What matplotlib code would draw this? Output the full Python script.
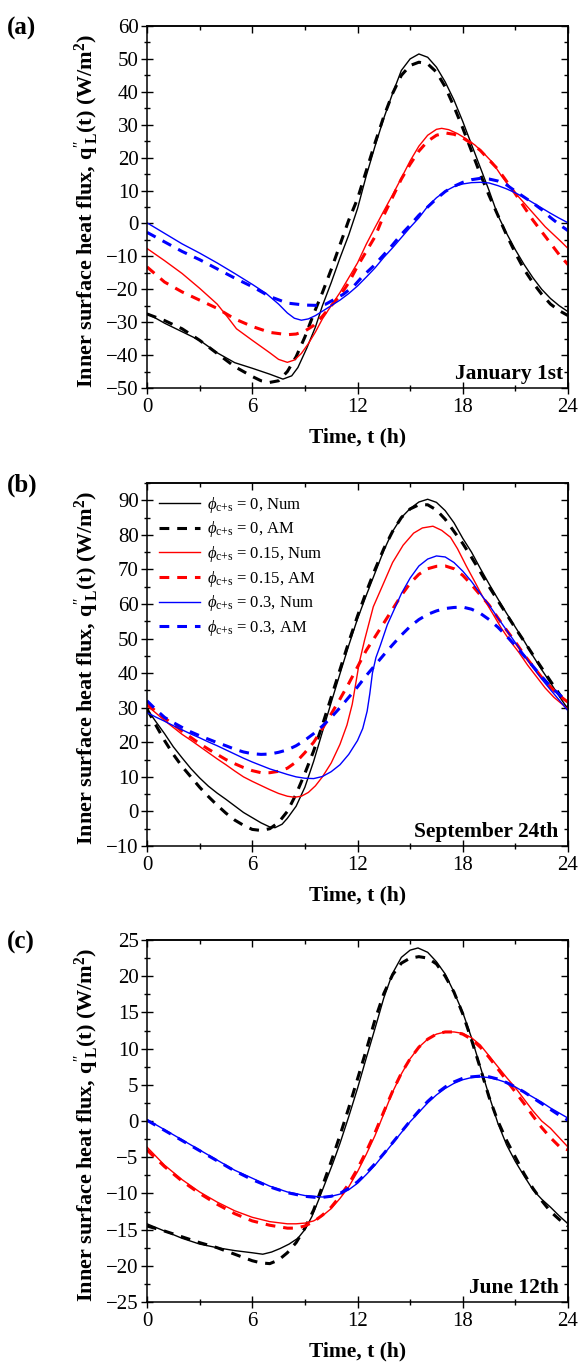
import matplotlib
matplotlib.use("Agg")
import matplotlib.pyplot as plt
from matplotlib.ticker import MultipleLocator

plt.rcParams['font.family'] = ['Liberation Serif', 'DejaVu Serif']
plt.rcParams['mathtext.fontset'] = 'custom'
plt.rcParams['mathtext.rm'] = 'Liberation Serif'
plt.rcParams['mathtext.it'] = 'Liberation Serif:italic'
plt.rcParams['mathtext.bf'] = 'Liberation Serif:bold'

# ---------------- Panel (a): January 1st ----------------
a_num0_t = [0, 1, 2, 3, 4, 5, 6, 7, 7.75, 8.25, 8.6, 9.1, 9.6, 10, 10.5, 11, 11.5, 12, 12.5, 13, 13.5, 14, 14.5, 15, 15.5, 16, 16.5, 17, 17.5, 18, 18.5, 19, 19.5, 20, 20.5, 21, 21.5, 22, 22.5, 23, 23.5, 24]
a_num0_q = [-27.3, -30.3, -32.9, -35.5, -39.3, -42.3, -44.0, -45.8, -47.3, -46.3, -43.8, -38.0, -31.5, -25.0, -18.0, -10.5, -3.5, 4.5, 14.5, 23.5, 32.0, 39.5, 46.5, 50.0, 51.5, 50.5, 47.5, 43.0, 37.5, 31.0, 24.0, 17.0, 10.0, 2.5, -3.0, -8.0, -12.5, -16.5, -20.0, -22.8, -25.0, -26.8]
a_am0_t = [0, 0.5, 1, 2, 3, 4, 5, 6, 6.5, 7, 7.5, 8, 8.5, 9, 9.5, 10, 10.5, 11, 11.5, 12, 12.5, 13, 13.5, 14, 14.5, 15, 15.5, 16, 16.5, 17, 17.5, 18, 18.5, 19, 19.5, 20, 20.5, 21, 21.5, 22, 22.5, 23, 23.5, 24]
a_am0_q = [-27.5, -28.5, -29.5, -32.0, -35.5, -39.5, -43.5, -46.5, -47.8, -48.3, -47.8, -45.0, -40.5, -34.5, -27.5, -21.0, -14.0, -6.5, 1.0, 7.5, 16.0, 24.5, 32.5, 39.5, 45.0, 48.0, 49.0, 48.5, 46.0, 41.5, 35.5, 29.0, 22.0, 15.0, 8.5, 2.5, -3.5, -9.0, -14.0, -18.0, -21.5, -24.5, -26.5, -28.0]
a_num15_t = [0, 1, 2, 3, 4, 4.6, 5.1, 6, 7, 7.5, 8, 8.4, 8.8, 9.2, 9.6, 10, 10.5, 11, 11.5, 12, 12.5, 13, 13.5, 14, 14.5, 15, 15.5, 16, 16.5, 16.8, 17.2, 17.7, 18.2, 18.7, 19.2, 19.7, 20.2, 20.7, 21.2, 21.7, 22.2, 22.7, 23.2, 23.6, 24]
a_num15_q = [-7.6, -11.3, -15.2, -19.7, -24.5, -28.5, -32.0, -35.5, -39.3, -41.3, -42.2, -41.5, -39.5, -36.5, -33.0, -29.0, -25.0, -21.0, -16.5, -12.0, -6.3, -1.2, 3.8, 8.7, 13.8, 19.0, 23.5, 26.8, 28.6, 28.9, 28.5, 27.3, 25.7, 23.8, 21.3, 18.5, 14.5, 11.0, 8.0, 5.0, 2.0, -1.0, -3.5, -5.5, -7.6]
a_am15_t = [0, 1, 2, 3, 4, 5, 6, 7, 8, 8.5, 9, 9.5, 10, 10.5, 11, 11.5, 12, 12.5, 13, 13.5, 14, 14.5, 15, 15.5, 16, 16.5, 17, 17.5, 18, 18.5, 19, 19.5, 20, 20.5, 21, 21.5, 22, 22.5, 23, 23.5, 24]
a_am15_q = [-13.2, -17.8, -20.8, -23.3, -25.8, -29.0, -31.3, -33.1, -33.8, -33.6, -32.7, -31.0, -28.2, -25.0, -22.0, -18.0, -13.0, -8.5, -4.0, 2.5, 8.0, 13.5, 18.0, 22.0, 25.0, 26.8, 27.5, 27.1, 26.0, 24.3, 22.2, 19.3, 16.5, 12.8, 9.0, 5.0, 1.0, -2.5, -6.0, -9.5, -12.5]
a_num30_t = [0, 1, 2, 3, 4, 5, 6, 6.8, 7.5, 8, 8.4, 8.8, 9.2, 9.6, 10.2, 11, 11.5, 12, 12.5, 13, 13.5, 14, 14.5, 15, 15.5, 16, 16.5, 17, 17.5, 18, 18.5, 19, 19.5, 20, 20.5, 21, 21.5, 22, 22.5, 23, 23.5, 24]
a_num30_q = [0.2, -3.0, -6.2, -9.0, -12.0, -15.2, -18.5, -21.3, -24.5, -27.2, -28.8, -29.4, -29.0, -28.0, -26.0, -23.3, -21.3, -19.0, -16.3, -13.5, -10.3, -7.4, -4.3, -1.2, 1.7, 5.2, 7.8, 9.8, 11.2, 12.0, 12.4, 12.5, 12.3, 11.5, 10.5, 9.3, 7.9, 6.3, 4.7, 3.1, 1.6, 0.2]
a_am30_t = [0, 1, 2, 3, 4, 5, 6, 7, 8, 9, 9.7, 10.2, 10.6, 11.2, 11.8, 12.3, 12.9, 13.5, 14, 14.5, 15, 15.5, 16, 16.5, 17, 17.5, 18, 18.5, 19, 19.5, 20, 20.5, 21, 21.5, 22, 22.5, 23, 23.5, 24]
a_am30_q = [-2.7, -5.6, -8.5, -11.0, -13.8, -16.6, -19.2, -22.2, -24.2, -24.8, -24.9, -24.5, -23.3, -21.5, -19.0, -16.0, -13.0, -9.5, -6.5, -3.3, -0.5, 2.5, 5.0, 7.5, 9.7, 11.3, 12.5, 13.3, 13.7, 13.5, 12.9, 11.7, 9.8, 8.0, 6.2, 4.2, 1.8, -0.3, -2.2]

# ---------------- Panel (b): September 24th ----------------
b_num0_t = [0, 0.5, 1, 1.5, 2, 2.5, 3, 3.5, 4, 4.5, 5, 5.5, 6, 6.5, 7, 7.3, 7.7, 8, 8.5, 9, 9.5, 10, 10.5, 11, 11.5, 12, 12.5, 13, 13.5, 14, 14.5, 15, 15.5, 16, 16.5, 17, 17.5, 18, 18.5, 19, 19.5, 20, 20.5, 21, 21.5, 22, 22.5, 23, 23.5, 24]
b_num0_q = [29.6, 26.0, 22.5, 18.7, 15.5, 12.4, 9.7, 7.3, 5.3, 3.5, 1.6, -0.3, -1.8, -3.3, -4.5, -4.7, -3.7, -2.0, 1.5, 7.0, 14.5, 23.0, 31.5, 39.8, 48.0, 55.7, 62.5, 69.0, 75.5, 81.0, 85.0, 87.6, 89.5, 90.3, 89.4, 87.0, 83.5, 79.0, 75.0, 70.3, 65.8, 61.5, 57.3, 53.3, 49.3, 45.0, 41.0, 37.2, 33.3, 29.6]
b_am0_t = [0, 0.5, 1, 1.5, 2, 2.5, 3, 3.5, 4, 4.5, 5, 5.5, 6, 6.5, 7, 7.5, 8, 8.5, 9, 9.5, 10, 10.5, 11, 11.5, 12, 12.5, 13, 13.5, 14, 14.5, 15, 15.5, 16, 16.5, 17, 17.5, 18, 18.5, 19, 19.5, 20, 20.5, 21, 21.5, 22, 22.5, 23, 23.5, 24]
b_am0_q = [29.6, 25.0, 20.5, 16.5, 13.0, 10.0, 7.0, 4.3, 1.8, -0.5, -2.5, -4.0, -5.2, -5.5, -5.0, -3.2, 0.0, 5.0, 11.0, 17.5, 25.0, 33.0, 41.0, 49.0, 56.5, 63.5, 70.0, 76.0, 81.0, 85.0, 87.5, 88.7, 88.7, 87.2, 84.5, 81.0, 77.5, 73.5, 69.3, 65.0, 61.0, 57.0, 53.0, 49.2, 45.3, 41.5, 37.7, 34.0, 30.3]
b_num15_t = [0, 0.5, 1, 1.5, 2, 2.5, 3, 3.5, 4, 4.5, 5, 5.5, 6, 6.5, 7, 7.5, 8, 8.4, 8.8, 9.2, 9.6, 10, 10.5, 11, 11.4, 11.7, 11.9, 12.1, 12.4, 12.9, 13.4, 14, 14.6, 15.2, 15.7, 16.3, 16.8, 17.3, 17.7, 18.2, 18.7, 19.2, 19.7, 20.2, 20.7, 21.2, 21.7, 22.2, 22.7, 23.2, 23.6, 24]
b_num15_q = [30.6, 28.5, 26.3, 24.3, 22.3, 20.6, 18.8, 17.0, 15.2, 13.5, 11.7, 10.0, 8.7, 7.5, 6.3, 5.2, 4.4, 4.1, 4.4, 5.5, 7.4, 10.0, 14.0, 19.4, 25.0, 31.0, 37.0, 43.0, 49.5, 59.2, 65.0, 72.0, 77.0, 80.5, 82.0, 82.5, 81.3, 79.3, 76.0, 71.0, 66.3, 61.5, 57.3, 53.0, 49.3, 46.0, 42.3, 39.0, 35.7, 33.0, 31.3, 29.6]
b_am15_t = [0, 0.5, 1, 1.5, 2, 2.5, 3, 3.5, 4, 4.5, 5, 5.5, 6, 6.5, 7, 7.5, 8, 8.5, 9, 9.5, 10, 10.5, 11, 11.5, 12, 12.5, 13, 13.5, 14, 14.5, 15, 15.5, 16, 16.5, 17, 17.5, 18, 18.5, 19, 19.5, 20, 20.5, 21, 21.5, 22, 22.5, 23, 23.5, 24]
b_am15_q = [31.1, 29.0, 27.0, 25.2, 23.2, 21.4, 19.6, 18.0, 16.5, 15.0, 13.8, 12.7, 11.8, 11.2, 11.2, 11.6, 12.5, 14.3, 17.0, 20.0, 24.0, 28.2, 32.5, 37.0, 41.8, 46.6, 50.5, 54.5, 58.5, 62.5, 66.0, 68.6, 70.2, 70.9, 71.0, 70.2, 68.3, 65.6, 62.6, 59.7, 56.0, 52.4, 49.0, 45.3, 42.0, 38.8, 36.0, 33.5, 31.6]
b_num30_t = [0, 0.5, 1, 1.5, 2, 2.5, 3, 3.5, 4, 4.5, 5, 5.5, 6, 6.5, 7, 7.5, 8, 8.5, 9, 9.5, 10, 10.5, 11, 11.5, 12, 12.3, 12.55, 12.7, 12.85, 13.05, 13.3, 13.7, 14.1, 14.5, 15, 15.5, 16, 16.5, 17, 17.5, 18, 18.5, 19, 19.5, 20, 20.5, 21, 21.5, 22, 22.5, 23, 23.5, 24]
b_num30_q = [28.6, 27.3, 26.1, 24.8, 23.6, 22.4, 21.3, 20.1, 19.0, 17.8, 16.6, 15.4, 14.3, 13.3, 12.3, 11.5, 10.7, 10.0, 9.6, 9.5, 10.1, 11.5, 13.5, 16.5, 20.5, 24.0, 29.0, 34.0, 40.0, 44.5, 48.0, 54.0, 58.5, 63.0, 67.5, 71.0, 73.0, 73.9, 73.6, 72.0, 69.5, 66.5, 63.0, 59.7, 56.0, 52.4, 48.8, 45.2, 41.6, 38.3, 35.2, 32.2, 29.1]
b_am30_t = [0, 0.5, 1, 1.5, 2, 2.5, 3, 3.5, 4, 4.5, 5, 5.5, 6, 6.5, 7, 7.5, 8, 8.5, 9, 9.5, 10, 10.5, 11, 11.5, 12, 12.5, 13, 13.5, 14, 14.5, 15, 15.5, 16, 16.5, 17, 17.5, 18, 18.5, 19, 19.5, 20, 20.5, 21, 21.5, 22, 22.5, 23, 23.5, 24]
b_am30_q = [32.0, 29.5, 27.2, 25.7, 24.3, 23.0, 21.9, 20.9, 19.9, 19.0, 18.0, 17.2, 16.7, 16.5, 16.6, 17.1, 17.8, 19.0, 20.6, 22.5, 24.7, 27.2, 30.0, 33.0, 36.0, 39.3, 42.3, 45.3, 48.2, 51.0, 53.5, 55.5, 57.0, 58.0, 58.7, 59.0, 59.1, 58.5, 57.3, 55.5, 53.3, 50.7, 48.0, 45.0, 42.0, 39.0, 36.2, 33.8, 31.8]

# ---------------- Panel (c): June 12th ----------------
c_num0_t = [0, 1, 2, 3, 4, 5, 6, 6.6, 7.1, 7.6, 8.1, 8.6, 9, 9.4, 9.8, 10.2, 10.6, 11, 11.5, 12, 12.5, 13, 13.5, 14, 14.5, 15, 15.45, 16, 16.5, 17, 17.5, 18, 18.5, 19, 19.5, 20, 20.5, 21, 21.5, 22, 22.5, 23, 23.5, 24]
c_num0_q = [-14.2, -15.2, -16.2, -17.0, -17.5, -17.9, -18.2, -18.4, -18.1, -17.6, -17.0, -16.2, -15.0, -13.2, -10.8, -8.3, -5.8, -3.1, 0.6, 4.5, 8.7, 12.8, 17.0, 20.4, 22.6, 23.6, 23.9, 23.3, 22.0, 20.3, 17.8, 15.0, 11.5, 7.5, 3.5, -0.3, -3.3, -5.6, -7.6, -9.5, -10.8, -11.9, -13.1, -14.2]
c_am0_t = [0, 1, 2, 3, 4, 5, 6, 6.5, 7, 7.5, 8, 8.5, 9, 9.5, 10, 10.5, 11, 11.5, 12, 12.5, 13, 13.5, 14, 14.5, 15, 15.5, 16, 16.5, 17, 17.5, 18, 18.5, 19, 19.5, 20, 20.5, 21, 21.5, 22, 22.5, 23, 23.5, 24]
c_am0_q = [-14.5, -15.2, -16.0, -16.8, -17.5, -18.4, -19.3, -19.6, -19.7, -19.2, -18.2, -16.8, -14.8, -12.3, -9.0, -5.6, -2.0, 1.8, 5.8, 9.8, 14.0, 17.6, 20.2, 21.8, 22.5, 22.7, 22.5, 21.7, 20.0, 17.8, 14.8, 11.2, 7.3, 3.3, 0.0, -2.7, -5.0, -7.3, -9.3, -11.0, -12.5, -13.6, -14.5]
c_num15_t = [0, 1, 2, 3, 4, 5, 6, 7, 8, 8.5, 9, 9.5, 10, 10.5, 11, 11.5, 12, 12.5, 13, 13.5, 14, 14.5, 15, 15.5, 16, 16.5, 17, 17.5, 18, 18.5, 19, 19.5, 20, 20.5, 21, 21.5, 22, 22.5, 23, 23.5, 24]
c_num15_q = [-3.6, -6.1, -8.1, -9.8, -11.2, -12.4, -13.3, -13.9, -14.2, -14.2, -14.1, -13.8, -13.1, -12.1, -10.7, -9.1, -7.0, -4.6, -2.0, 1.0, 4.0, 6.5, 8.6, 10.2, 11.3, 12.0, 12.3, 12.3, 12.1, 11.5, 10.5, 9.0, 7.5, 6.0, 4.6, 3.0, 1.4, 0.0, -1.0, -2.3, -3.6]
c_am15_t = [0, 1, 2, 3, 4, 5, 6, 7, 8, 8.5, 9, 9.5, 10, 10.5, 11, 11.5, 12, 12.5, 13, 13.5, 14, 14.5, 15, 15.5, 16, 16.5, 17, 17.5, 18, 18.5, 19, 19.5, 20, 20.5, 21, 21.5, 22, 22.5, 23, 23.5, 24]
c_am15_q = [-4.0, -6.3, -8.3, -10.0, -11.5, -12.8, -13.8, -14.4, -14.8, -14.8, -14.5, -13.9, -13.0, -11.9, -10.4, -8.7, -6.6, -4.2, -1.6, 1.3, 4.1, 6.6, 8.6, 10.2, 11.3, 12.0, 12.3, 12.3, 12.0, 11.3, 10.2, 8.8, 7.2, 5.6, 4.0, 2.4, 0.7, -0.9, -2.3, -3.5, -4.0]
c_num30_t = [0, 1, 2, 3, 4, 5, 6, 7, 8, 9, 10, 10.5, 11, 11.5, 12, 12.5, 13, 13.5, 14, 14.5, 15, 15.5, 16, 16.5, 17, 17.5, 18, 18.5, 19, 19.5, 20, 20.5, 21, 21.5, 22, 22.5, 23, 23.5, 24]
c_num30_q = [0.2, -1.2, -2.6, -4.0, -5.4, -6.8, -7.9, -9.0, -9.8, -10.3, -10.5, -10.4, -10.1, -9.5, -8.6, -7.4, -6.1, -4.6, -3.1, -1.6, -0.1, 1.2, 2.5, 3.6, 4.5, 5.2, 5.7, 6.0, 6.1, 6.0, 5.7, 5.3, 4.7, 4.0, 3.3, 2.6, 1.8, 1.1, 0.4]
c_am30_t = [0, 1, 2, 3, 4, 5, 6, 7, 8, 9, 9.8, 10.5, 11, 11.5, 12, 12.5, 13, 13.5, 14, 14.5, 15, 15.5, 16, 16.5, 17, 17.5, 18, 18.5, 19, 19.5, 20, 20.5, 21, 21.5, 22, 22.5, 23, 23.5, 24]
c_am30_q = [0.1, -1.3, -2.7, -4.1, -5.5, -6.9, -8.1, -9.1, -9.9, -10.4, -10.6, -10.4, -10.0, -9.3, -8.4, -7.2, -5.9, -4.5, -3.0, -1.5, 0.0, 1.4, 2.7, 3.8, 4.7, 5.4, 5.9, 6.1, 6.2, 6.1, 5.8, 5.3, 4.7, 4.0, 3.2, 2.4, 1.6, 0.8, 0.1]

series_labels = [r'$\phi_{\rm c{+}s}$ = 0, Num', r'$\phi_{\rm c{+}s}$ = 0, AM',
                 r'$\phi_{\rm c{+}s}$ = 0.15, Num', r'$\phi_{\rm c{+}s}$ = 0.15, AM',
                 r'$\phi_{\rm c{+}s}$ = 0.3, Num', r'$\phi_{\rm c{+}s}$ = 0.3, AM']
series_colors = ['black', 'black', '#ff0000', '#ff0000', '#0000ff', '#0000ff']

panel_letters = ['(a)', '(b)', '(c)']
panel_titles = ['January 1st', 'September 24th', 'June 12th']
panel_ylims = [(-50, 60), (-10, 95), (-25, 25)]
panel_ymajor = [10, 10, 5]
x_ticks = [0, 6, 12, 18, 24]

panels = [
    [(a_num0_t, a_num0_q), (a_am0_t, a_am0_q), (a_num15_t, a_num15_q),
     (a_am15_t, a_am15_q), (a_num30_t, a_num30_q), (a_am30_t, a_am30_q)],
    [(b_num0_t, b_num0_q), (b_am0_t, b_am0_q), (b_num15_t, b_num15_q),
     (b_am15_t, b_am15_q), (b_num30_t, b_num30_q), (b_am30_t, b_am30_q)],
    [(c_num0_t, c_num0_q), (c_am0_t, c_am0_q), (c_num15_t, c_num15_q),
     (c_am15_t, c_am15_q), (c_num30_t, c_num30_q), (c_am30_t, c_am30_q)],
]

W, H = 580, 1365
fig = plt.figure(figsize=(W / 100, H / 100), dpi=100)

ax_left, ax_right = 147, 568
ax_tops = [26, 483, 940]
ax_bottoms = [388, 846, 1302]

for i in range(3):
    top, bot = ax_tops[i], ax_bottoms[i]
    ax = fig.add_axes([ax_left / W, 1 - bot / H, (ax_right - ax_left) / W, (bot - top) / H])
    for j, (t, q) in enumerate(panels[i]):
        if j % 2 == 0:
            ax.plot(t, q, color=series_colors[j], lw=1.0, label=series_labels[j])
        else:
            ax.plot(t, q, color=series_colors[j], lw=2.2, dashes=(3.2, 2.6),
                    label=series_labels[j])
    ax.set_xlim(0, 24)
    ax.set_ylim(*panel_ylims[i])
    ax.set_xticks(x_ticks)
    ax.xaxis.set_minor_locator(MultipleLocator(3))
    ax.yaxis.set_major_locator(MultipleLocator(panel_ymajor[i]))
    ax.yaxis.set_minor_locator(MultipleLocator(panel_ymajor[i] / 2))
    ax.tick_params(which='major', direction='inout', length=8, width=1.0,
                   labelsize=15, top=False, right=False)
    ax.tick_params(which='minor', direction='inout', length=4.5, width=1.0,
                   top=False, right=False)
    ax.tick_params(axis='x', which='major', pad=3)
    ax.tick_params(axis='y', which='major', pad=2)
    for s in ax.spines.values():
        s.set_linewidth(1.1)

    secx = ax.secondary_xaxis('top')
    secx.set_xticks(x_ticks)
    secx.xaxis.set_minor_locator(MultipleLocator(3))
    secx.tick_params(which='major', direction='in', length=5, width=1.0, labeltop=False)
    secx.tick_params(which='minor', direction='in', length=3, width=1.0)
    secx.spines['top'].set_linewidth(1.1)
    secy = ax.secondary_yaxis('right')
    secy.yaxis.set_major_locator(MultipleLocator(panel_ymajor[i]))
    secy.yaxis.set_minor_locator(MultipleLocator(panel_ymajor[i] / 2))
    secy.tick_params(which='major', direction='in', length=5, width=1.0, labelright=False)
    secy.tick_params(which='minor', direction='in', length=3, width=1.0)
    secy.spines['right'].set_linewidth(1.1)

    hpx = bot - top
    ax.text(0.5, -49 / hpx, 'Time, t (h)', transform=ax.transAxes, ha='center',
            va='center', fontsize=15.5, fontweight='bold')
    ax.text(-60 / (ax_right - ax_left), 0.49,
            r"Inner surface heat flux, q$^{\prime\prime}_{\ \mathbf{L}}$(t) (W/m$^{\mathbf{2}}$)",
            transform=ax.transAxes, rotation=90, ha='center', va='center',
            fontsize=16, fontweight='bold')
    ax.text(0.978 if i else 0.988, 9 / hpx, panel_titles[i], transform=ax.transAxes,
            ha='right', va='baseline', fontsize=15.5, fontweight='bold')
    fig.text(7 / W, 1 - (top + 2) / H, panel_letters[i], ha='left', va='center',
             fontsize=18, fontweight='bold')

    if i == 1:
        leg = ax.legend(loc='upper left', frameon=False, fontsize=12,
                        handlelength=2.5, handletextpad=0.4, labelspacing=0.28,
                        borderaxespad=0.35, borderpad=0.35)

fig.savefig('out.png', dpi=100)
